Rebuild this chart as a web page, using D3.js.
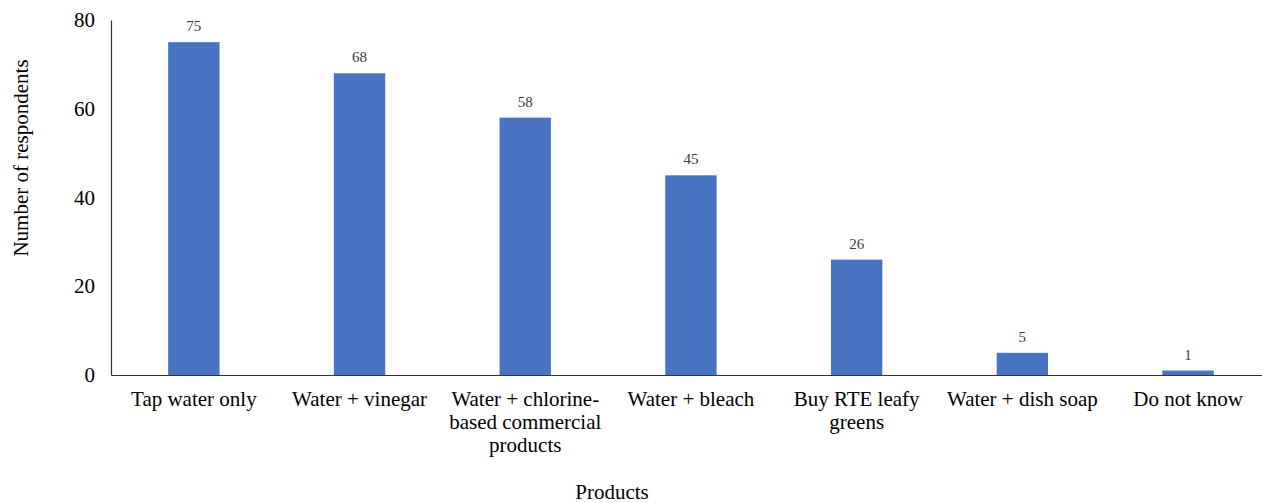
<!DOCTYPE html>
<html><head><meta charset="utf-8">
<script src="https://cdn.jsdelivr.net/npm/d3@7"></script>
<style>body{margin:0;background:#fff}svg{display:block}</style>
</head><body>
<svg id="c" width="1262" height="503"></svg>
<script>
const categories = [
  ["Tap water only"],
  ["Water + vinegar"],
  ["Water + chlorine-", "based commercial", "products"],
  ["Water + bleach"],
  ["Buy RTE leafy", "greens"],
  ["Water + dish soap"],
  ["Do not know"]
];
const values = [75, 68, 58, 45, 26, 5, 1];
const yTicks = [0, 20, 40, 60, 80];

const svg = d3.select("#c");
const m = {left: 111, top: 20, bottom: 128};
const W = 1262, H = 503;
const keys = categories.map(c => c.join(" "));
const x = d3.scaleBand().domain(keys).range([m.left, m.left + 7 * 165.7]).paddingInner(0.69).paddingOuter(0.345);
const y = d3.scaleLinear().domain([0, 80]).range([H - m.bottom, m.top]);
const font = "'Liberation Serif', 'Times New Roman', serif";

svg.selectAll("rect.bar").data(values).join("rect")
  .attr("x", (d, i) => x(keys[i])).attr("width", x.bandwidth())
  .attr("y", d => y(d)).attr("height", d => y(0) - y(d))
  .attr("fill", "#4874C2");

svg.selectAll("text.val").data(values).join("text")
  .attr("x", (d, i) => x(keys[i]) + x.bandwidth() / 2)
  .attr("y", d => y(d) - 11)
  .attr("text-anchor", "middle").attr("font-family", font).attr("font-size", 15)
  .attr("fill", "#3a3a3a").text(d => d);

// y axis
const ya = svg.append("g").attr("transform", `translate(${m.left},0)`)
  .call(d3.axisLeft(y).tickValues(yTicks).tickSize(0).tickPadding(16));
ya.select(".domain").attr("stroke", "#333").attr("stroke-width", 1.2);
ya.selectAll("text").attr("font-family", font).attr("font-size", 21).attr("fill", "#000");

// x axis
const xa = svg.append("g").attr("transform", `translate(0,${y(0)})`)
  .call(d3.axisBottom(x).tickSize(0).tickFormat(""));
xa.select(".domain").attr("stroke", "#333").attr("stroke-width", 1.2);

svg.selectAll("text.cat").data(categories).join("text")
  .attr("font-family", font).attr("font-size", 21).attr("fill", "#000")
  .attr("text-anchor", "middle")
  .attr("transform", (d, i) => `translate(${x(keys[i]) + x.bandwidth() / 2},${y(0) + 31})`)
  .each(function(d) {
    d3.select(this).selectAll("tspan").data(d).join("tspan")
      .attr("x", 0).attr("y", (t, j) => j * 23).text(t => t);
  });

svg.append("text").attr("x", 612).attr("y", 499)
  .attr("text-anchor", "middle").attr("font-family", font).attr("font-size", 21).text("Products");

svg.append("text").attr("transform", `translate(28,158) rotate(-90)`)
  .attr("text-anchor", "middle").attr("font-family", font).attr("font-size", 21).text("Number of respondents");
</script>
</body></html>
